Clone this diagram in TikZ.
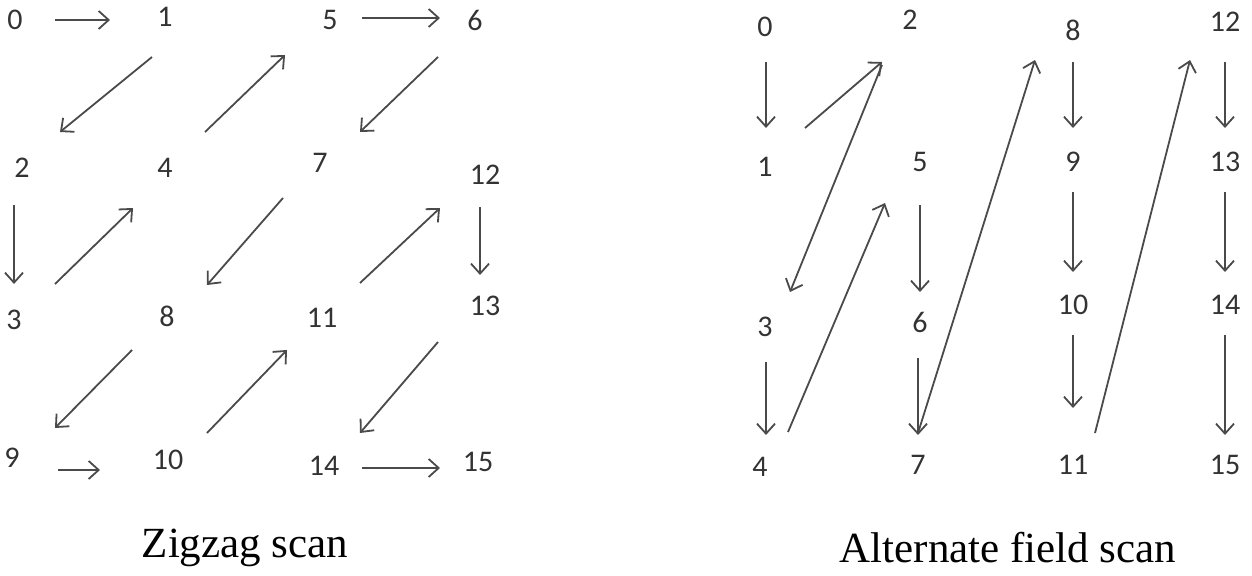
\documentclass[tikz,border=0pt]{standalone}
\usepackage{fontspec}
\setmainfont{Liberation Serif}
\newfontfamily\numfont{Carlito}
\usetikzlibrary{arrows.meta}
\definecolor{ink}{HTML}{333333}
\definecolor{arr}{HTML}{4a4a4a}
\begin{document}
\begin{tikzpicture}[x=0.5pt,y=-0.5pt,
  num/.style={font=\numfont\fontsize{15}{15}\selectfont, text=ink, inner sep=0pt},
  captext/.style={font=\fontsize{21.5}{21.5}\selectfont, text=black, inner sep=0pt},
  scanarrow/.style={draw=arr, line width=0.9pt, -{Straight Barb[length=5pt,width=9pt,line width=0.9pt]}}]
\useasboundingbox (0,0) rectangle (1252,576);
% ---------- Left: zigzag ----------
\node[num] (L0) at (15,20) {0};
\node[num] (L1) at (165,17) {1};
\node[num] (L5) at (330,20) {5};
\node[num] (L6) at (475,20) {6};
\node[num] (L2) at (22,168) {2};
\node[num] (L4) at (165,168) {4};
\node[num] (L7) at (320,163) {7};
\node[num] (L12) at (485,175) {12};
\node[num] (L3) at (14,320) {3};
\node[num] (L8) at (167,316) {8};
\node[num] (L11) at (322,318) {11};
\node[num] (L13) at (485,306) {13};
\node[num] (L9) at (12,458) {9};
\node[num] (L10) at (168,460) {10};
\node[num] (L14) at (324,466) {14};
\node[num] (L15) at (478,462) {15};
\node[captext] (Lcap) at (245,548) {Zigzag scan};
% arrow end points
\coordinate (la1) at (55,20);   \coordinate (lb1) at (110,20);
\coordinate (la2) at (152,57);  \coordinate (lb2) at (60,132);
\coordinate (la3) at (14,205);  \coordinate (lb3) at (14,284);
\coordinate (la4) at (55,284);  \coordinate (lb4) at (133,208);
\coordinate (la5) at (205,132); \coordinate (lb5) at (285,55);
\coordinate (la6) at (362,18);  \coordinate (lb6) at (440,18);
\coordinate (la7) at (438,57);  \coordinate (lb7) at (360,132);
\coordinate (la8) at (283,198); \coordinate (lb8) at (207,285);
\coordinate (la9) at (132,350); \coordinate (lb9) at (55,428);
\coordinate (la10) at (58,470); \coordinate (lb10) at (100,470);
\coordinate (la11) at (207,433); \coordinate (lb11) at (287,350);
\coordinate (la12) at (360,283); \coordinate (lb12) at (440,208);
\coordinate (la13) at (480,207); \coordinate (lb13) at (480,275);
\coordinate (la14) at (438,342); \coordinate (lb14) at (360,433);
\coordinate (la15) at (362,468); \coordinate (lb15) at (440,468);
\foreach \i in {1,...,15} {\draw[scanarrow] (la\i) -- (lb\i);}
% ---------- Right: alternate field ----------
\node[num] (R0) at (765,27) {0};
\node[num] (R2) at (910,20) {2};
\node[num] (R8) at (1073,30) {8};
\node[num] (R12) at (1225,22) {12};
\node[num] (R1) at (765,167) {1};
\node[num] (R5) at (920,162) {5};
\node[num] (R9) at (1073,162) {9};
\node[num] (R13) at (1225,162) {13};
\node[num] (R3) at (765,327) {3};
\node[num] (R6) at (920,322) {6};
\node[num] (R10) at (1073,305) {10};
\node[num] (R14) at (1225,305) {14};
\node[num] (R4) at (760,467) {4};
\node[num] (R7) at (918,465) {7};
\node[num] (R11) at (1073,465) {11};
\node[num] (R15) at (1225,465) {15};
\node[captext] (Rcap) at (1008,548) {Alternate field scan};
\coordinate (ra1) at (766,62);   \coordinate (rb1) at (766,128);
\coordinate (ra2) at (805,128);  \coordinate (rb2) at (882,62);
\coordinate (ra3) at (882,65);   \coordinate (rb3) at (790,292);
\coordinate (ra4) at (766,362);  \coordinate (rb4) at (766,435);
\coordinate (ra5) at (788,432);  \coordinate (rb5) at (885,203);
\coordinate (ra6) at (920,205);  \coordinate (rb6) at (920,292);
\coordinate (ra7) at (918,358);  \coordinate (rb7) at (918,435);
\coordinate (ra8) at (918,433);  \coordinate (rb8) at (1035,60);
\coordinate (ra9) at (1073,62);  \coordinate (rb9) at (1073,128);
\coordinate (ra10) at (1073,192); \coordinate (rb10) at (1073,272);
\coordinate (ra11) at (1073,335); \coordinate (rb11) at (1073,408);
\coordinate (ra12) at (1095,433); \coordinate (rb12) at (1190,60);
\coordinate (ra13) at (1225,62);  \coordinate (rb13) at (1225,128);
\coordinate (ra14) at (1225,192); \coordinate (rb14) at (1225,272);
\coordinate (ra15) at (1225,335); \coordinate (rb15) at (1225,435);
\foreach \i in {1,...,15} {\draw[scanarrow] (ra\i) -- (rb\i);}
\end{tikzpicture}
\end{document}
